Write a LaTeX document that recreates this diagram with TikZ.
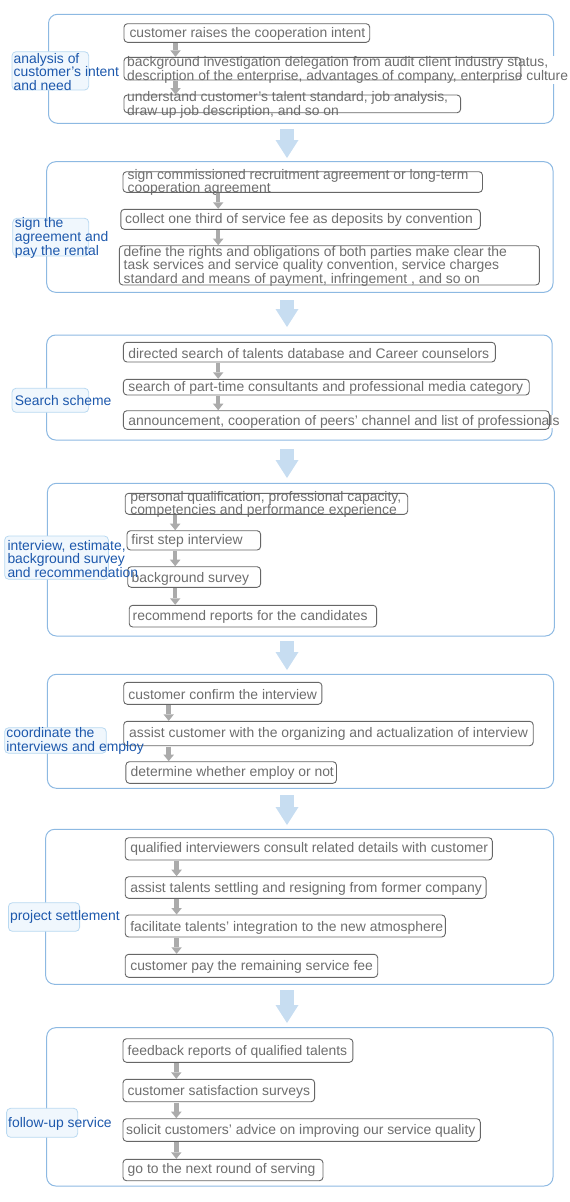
\documentclass[tikz,border=0pt]{standalone}
\usepackage{fontspec}
\setmainfont{Liberation Sans}
\usetikzlibrary{arrows.meta,fit,calc}
\definecolor{outerc}{HTML}{8DB9E2}
\definecolor{labfill}{HTML}{F0F7FD}
\definecolor{labdraw}{HTML}{B9D9F1}
\definecolor{labtext}{HTML}{1D58AC}
\definecolor{itemdraw}{HTML}{666666}
\definecolor{itemtext}{HTML}{6E6E6E}
\definecolor{garrowc}{HTML}{ABABAB}
\definecolor{barrowc}{HTML}{C7DDF1}
\begin{document}
\begin{tikzpicture}[x=1pt,y=-1pt,
  outerbox/.style={draw=outerc, line width=1pt, rounded corners=9pt, inner sep=0pt, outer sep=0pt},
  labbox/.style={draw=labdraw, fill=labfill, line width=0.8pt, rounded corners=4pt, inner sep=0pt, outer sep=0pt},
  labtxt/.style={text=labtext, anchor=west, align=left, inner sep=0pt, yshift=-1.5pt, font=\fontsize{13.9}{13.7}\selectfont},
  itembox/.style={draw=itemdraw, line width=0.9pt, rounded corners=3.5pt, inner sep=0pt, outer sep=0pt},
  itemtxt/.style={text=itemtext, fill=white, anchor=west, align=left, inner sep=0.5pt, yshift=-1.5pt, font=\fontsize{13.9}{13.7}\selectfont},
  garrow/.style={draw=garrowc, line width=4.5pt, -{Triangle[width=10.5pt,length=6.5pt,line width=0pt]}, shorten <=1pt, shorten >=0.5pt},
  barrow/.style={draw=barrowc, line width=14pt, -{Triangle[width=23pt,length=18pt,line width=0pt]}},
]
\useasboundingbox (0,0) rectangle (570,1202);

% ---------- outer boxes ----------
\node[outerbox, fit={(48.5,14.3) (553.6,123.3)}] (s1) {};
\node[outerbox, fit={(46.7,161.7) (553,292.3)}] (s2) {};
\node[outerbox, fit={(46.7,335) (552.2,440)}] (s3) {};
\node[outerbox, fit={(47.4,483.3) (554.4,636)}] (s4) {};
\node[outerbox, fit={(47.4,674.3) (553.6,788.3)}] (s5) {};
\node[outerbox, fit={(45.6,829.3) (553.6,984.3)}] (s6) {};
\node[outerbox, fit={(46.7,1027.7) (553,1186)}] (s7) {};

% ---------- item texts ----------
\node[itemtxt] (t11) at (128.8,32.5) {customer raises the cooperation intent};
\node[itemtxt] (t12) at (126.5,68.7) {background investigation delegation from audit client industry status,\\description of the enterprise, advantages of company, enterprise culture};
\node[itemtxt] (t13) at (126.5,103.7) {understand customer's talent standard, job analysis,\\draw up job description, and so on};

\node[itemtxt] (t21) at (127,180.8) {sign commissioned recruitment agreement or long-term\\cooperation agreement};
\node[itemtxt] (t22) at (124.5,218.3) {collect one third of service fee as deposits by convention};
\node[itemtxt] (t23) at (123,264.9) {define the rights and obligations of both parties make clear the\\task services and service quality convention, service charges\\standard and means of payment, infringement , and so on};

\node[itemtxt] (t31) at (127.7,352.3) {directed search of talents database and Career counselors};
\node[itemtxt] (t32) at (127.7,386.5) {search of part-time consultants and professional media category};
\node[itemtxt] (t33) at (127.7,420) {announcement, cooperation of peers' channel and list of professionals};

\node[itemtxt] (t41) at (129.6,503) {personal qualification, professional capacity,\\competencies and performance experience};
\node[itemtxt] (t42) at (130.7,539.8) {first step interview};
\node[itemtxt] (t43) at (131,577.3) {background survey};
\node[itemtxt] (t44) at (132,615.7) {recommend reports for the candidates};

\node[itemtxt] (t51) at (127.7,692.8) {customer confirm the interview};
\node[itemtxt] (t52) at (128.5,732.8) {assist customer with the organizing and actualization of interview};
\node[itemtxt] (t53) at (130,771.5) {determine whether employ or not};

\node[itemtxt] (t61) at (129.6,847) {qualified interviewers consult related details with customer};
\node[itemtxt] (t62) at (129.6,887) {assist talents settling and resigning from former company};
\node[itemtxt] (t63) at (129.6,926.7) {facilitate talents' integration to the new atmosphere};
\node[itemtxt] (t64) at (129.6,965.7) {customer pay the remaining service fee};

\node[itemtxt] (t71) at (127,1050.7) {feedback reports of qualified talents};
\node[itemtxt] (t72) at (127,1090) {customer satisfaction surveys};
\node[itemtxt] (t73) at (125.5,1129) {solicit customers' advice on improving our service quality};
\node[itemtxt] (t74) at (127,1168.3) {go to the next round of serving};

% ---------- item boxes ----------
\node[itembox, fit={(124,23.7) (369.7,42.3)}] (b11) {};
\node[itembox, fit={(124,57.3) (520.8,80)}] (b12) {};
\node[itembox, fit={(124,95) (460.6,112.7)}] (b13) {};

\node[itembox, fit={(123,171.7) (482.5,192.3)}] (b21) {};
\node[itembox, fit={(120.8,209.3) (480.3,229.3)}] (b22) {};
\node[itembox, fit={(119.3,245.7) (539.4,285)}] (b23) {};

\node[itembox, fit={(123.4,342.3) (495.3,362)}] (b31) {};
\node[itembox, fit={(123.4,379.3) (529.2,395)}] (b32) {};
\node[itembox, fit={(123.4,410.7) (549.3,429.3)}] (b33) {};

\node[itembox, fit={(125.2,493.3) (407.7,514.3)}] (b41) {};
\node[itembox, fit={(127,530.7) (260.6,550)}] (b42) {};
\node[itembox, fit={(127.7,566.7) (260.6,587.3)}] (b43) {};
\node[itembox, fit={(129.2,605.3) (376.6,627)}] (b44) {};

\node[itembox, fit={(123.7,682.3) (321.9,704.3)}] (b51) {};
\node[itembox, fit={(123.7,721.3) (533.2,745.7)}] (b52) {};
\node[itembox, fit={(125.9,761.7) (336.5,783.3)}] (b53) {};

\node[itembox, fit={(125.2,837.7) (492.3,860)}] (b61) {};
\node[itembox, fit={(125.2,876.7) (486.1,898.3)}] (b62) {};
\node[itembox, fit={(125.2,915) (445.3,937)}] (b63) {};
\node[itembox, fit={(125.2,954.3) (377.7,977.3)}] (b64) {};

\node[itembox, fit={(123,1038.7) (352.9,1062.3)}] (b71) {};
\node[itembox, fit={(123,1079.3) (314.6,1101.7)}] (b72) {};
\node[itembox, fit={(123,1118.7) (480.3,1141.3)}] (b73) {};
\node[itembox, fit={(123,1159.3) (323,1180.7)}] (b74) {};

% ---------- labels ----------
\node[labbox, fit={(12,51.7) (88.7,90)}] (l1) {};
\node[labtxt] (lt1) at (13.5,70.3) {analysis of\\customer's intent\\and need};
\node[labbox, fit={(12.8,218.3) (88.7,256)}] (l2) {};
\node[labtxt] (lt2) at (14.6,236.3) {sign the\\agreement and\\pay the rental};
\node[labbox, fit={(12,388.3) (88.7,412.3)}] (l3) {};
\node[labtxt] (lt3) at (14.6,399.5) {Search scheme};
\node[labbox, fit={(4.7,536) (108.4,579.3)}] (l4) {};
\node[labtxt] (lt4) at (7.3,557.3) {interview, estimate,\\background survey\\and recommendation};
\node[labbox, fit={(4.7,727.7) (106.2,753.3)}] (l5) {};
\node[labtxt] (lt5) at (6.2,739.5) {coordinate the\\interviews and employ};
\node[labbox, fit={(8.4,902.7) (79.6,931.3)}] (l6) {};
\node[labtxt] (lt6) at (9.9,915.7) {project settlement};
\node[labbox, fit={(6.6,1108.3) (77.7,1137.3)}] (l7) {};
\node[labtxt] (lt7) at (8,1122.3) {follow-up service};

% ---------- arrow columns ----------
\coordinate (g1) at (175.5,0);
\coordinate (g2) at (218.2,0);
\coordinate (g3) at (218.2,0);
\coordinate (g4) at (175.2,0);
\coordinate (g5) at (168.7,0);
\coordinate (g6) at (176.6,0);
\coordinate (g7) at (176.3,0);
\coordinate (ax) at (287,0);

% ---------- gray arrows ----------
\draw[garrow] (b11.south -| g1) -- (b12.north -| g1);
\draw[garrow] (b12.south -| g1) -- (b13.north -| g1);
\draw[garrow] (b21.south -| g2) -- (b22.north -| g2);
\draw[garrow] (b22.south -| g2) -- (b23.north -| g2);
\draw[garrow] (b31.south -| g3) -- (b32.north -| g3);
\draw[garrow] (b32.south -| g3) -- (b33.north -| g3);
\draw[garrow] (b41.south -| g4) -- (b42.north -| g4);
\draw[garrow] (b42.south -| g4) -- (b43.north -| g4);
\draw[garrow] (b43.south -| g4) -- (b44.north -| g4);
\draw[garrow] (b51.south -| g5) -- (b52.north -| g5);
\draw[garrow] (b52.south -| g5) -- (b53.north -| g5);
\draw[garrow] (b61.south -| g6) -- (b62.north -| g6);
\draw[garrow] (b62.south -| g6) -- (b63.north -| g6);
\draw[garrow] (b63.south -| g6) -- (b64.north -| g6);
\draw[garrow] (b71.south -| g7) -- (b72.north -| g7);
\draw[garrow] (b72.south -| g7) -- (b73.north -| g7);
\draw[garrow] (b73.south -| g7) -- (b74.north -| g7);

% ---------- blue arrows ----------
\draw[barrow] ($(s1.south -| ax)+(0,5.7)$) -- ($(s2.north -| ax)-(0,3.7)$);
\draw[barrow] ($(s2.south -| ax)+(0,7.7)$) -- ($(s3.north -| ax)-(0,8)$);
\draw[barrow] ($(s3.south -| ax)+(0,9)$) -- ($(s4.north -| ax)-(0,5.3)$);
\draw[barrow] ($(s4.south -| ax)+(0,5)$) -- ($(s5.north -| ax)-(0,4.3)$);
\draw[barrow] ($(s5.south -| ax)+(0,6.7)$) -- ($(s6.north -| ax)-(0,4.3)$);
\draw[barrow] ($(s6.south -| ax)+(0,5.7)$) -- ($(s7.north -| ax)-(0,4.7)$);
\end{tikzpicture}
\end{document}
